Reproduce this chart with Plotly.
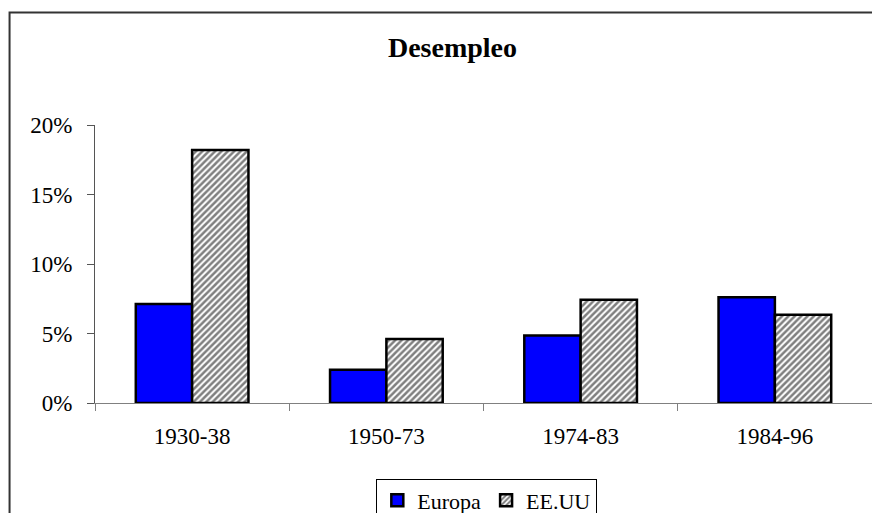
import plotly.graph_objects as go

categories = ["1930-38", "1950-73", "1974-83", "1984-96"]
europa = [0.0713, 0.0239, 0.0485, 0.0761]
eeuu = [0.182, 0.0461, 0.0742, 0.0634]
y_ticks = [0, 0.05, 0.10, 0.15, 0.20]
y_tick_labels = ["0%", "5%", "10%", "15%", "20%"]

FONT = "Liberation Serif, Times New Roman, serif"

# the page body adds an 8px margin on every side; keep the figure inside the window
OFF = 8
WIN_W, WIN_H = 880, 521
W, H = WIN_W - 2 * OFF, WIN_H - 2 * OFF

fig = go.Figure()
fig.add_trace(go.Bar(
    name="Europa", x=categories, y=europa,
    marker=dict(color="#0000FF", line=dict(color="black", width=2.5)),
))
fig.add_trace(go.Bar(
    name="EE.UU", x=categories, y=eeuu,
    marker=dict(color="white", line=dict(color="black", width=2.5),
                pattern=dict(shape="/", fgcolor="black", bgcolor="white",
                             size=4.5, solidity=0.55)),
))

# plot area in window pixels
px0, px1, py0, py1 = 94.5, 873, 124.7, 403.3
L = px0 - OFF
T = py0 - OFF
pw = px1 - px0
ph = py1 - py0
R = max(W - L - pw, 0)
pw = W - L - R
B = H - T - ph


def to_px(xw):
    return (xw - px0) / pw


def to_py(yw):
    return (py1 - yw) / ph


fig.update_layout(
    width=W, height=H,
    margin=dict(l=L, r=R, t=T, b=B, pad=0, autoexpand=False),
    paper_bgcolor="white", plot_bgcolor="white",
    barmode="group", bargap=0.42, bargroupgap=0,
    font=dict(family=FONT, size=23, color="black"),
    title=dict(text="<b>Desempleo</b>", x=(452.5 - OFF) / W, xanchor="center",
               y=1 - (47.5 - OFF) / H, yanchor="middle", xref="container", yref="container",
               font=dict(family=FONT, size=28, color="black")),
    showlegend=True,
    legend=dict(orientation="h", x=to_px(376), xanchor="left",
                y=to_py(479), yanchor="top",
                bordercolor="black", borderwidth=1, bgcolor="white",
                font=dict(family=FONT, size=22, color="black"),
                itemwidth=30, tracegroupgap=0),
    xaxis=dict(type="category", tickson="boundaries", ticks="outside",
               ticklen=7, tickcolor="#808080", showline=True, linecolor="#808080",
               linewidth=1, showgrid=False, ticklabelstandoff=12,
               tickfont=dict(family=FONT, size=23, color="black")),
    yaxis=dict(range=[0, 0.2], tickvals=y_ticks, ticktext=y_tick_labels,
               ticks="outside", ticklen=7, tickcolor="#555555", showline=True,
               linecolor="#555555", linewidth=1, showgrid=False, zeroline=False,
               ticklabelstandoff=10,
               tickfont=dict(family=FONT, size=23, color="black")),
    shapes=[dict(type="rect", xref="paper", yref="paper",
                 x0=to_px(9), x1=to_px(WIN_W + 30),
                 y0=to_py(WIN_H + 30), y1=to_py(12),
                 line=dict(color="#333333", width=2), fillcolor="rgba(0,0,0,0)",
                 layer="below")],
)

fig.write_html("out.html")
